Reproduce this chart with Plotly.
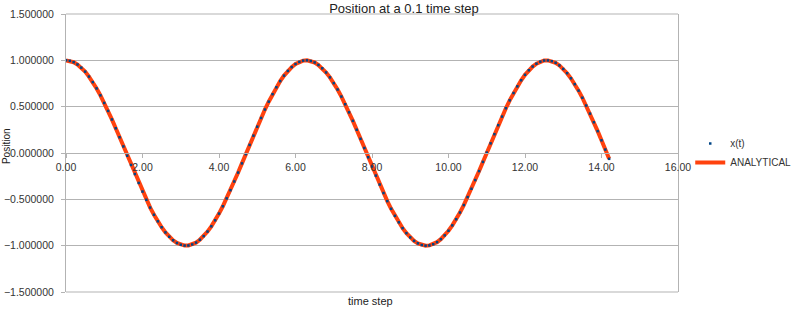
import plotly.graph_objects as go

# time (s) at 0.1 time step
time_values = [
    0.0, 0.1, 0.2, 0.3, 0.4, 0.5, 0.6, 0.7, 0.8, 0.9,
    1.0, 1.1, 1.2, 1.3, 1.4, 1.5, 1.6, 1.7, 1.8, 1.9,
    2.0, 2.1, 2.2, 2.3, 2.4, 2.5, 2.6, 2.7, 2.8, 2.9,
    3.0, 3.1, 3.2, 3.3, 3.4, 3.5, 3.6, 3.7, 3.8, 3.9,
    4.0, 4.1, 4.2, 4.3, 4.4, 4.5, 4.6, 4.7, 4.8, 4.9,
    5.0, 5.1, 5.2, 5.3, 5.4, 5.5, 5.6, 5.7, 5.8, 5.9,
    6.0, 6.1, 6.2, 6.3, 6.4, 6.5, 6.6, 6.7, 6.8, 6.9,
    7.0, 7.1, 7.2, 7.3, 7.4, 7.5, 7.6, 7.7, 7.8, 7.9,
    8.0, 8.1, 8.2, 8.3, 8.4, 8.5, 8.6, 8.7, 8.8, 8.9,
    9.0, 9.1, 9.2, 9.3, 9.4, 9.5, 9.6, 9.7, 9.8, 9.9,
    10.0, 10.1, 10.2, 10.3, 10.4, 10.5, 10.6, 10.7, 10.8, 10.9,
    11.0, 11.1, 11.2, 11.3, 11.4, 11.5, 11.6, 11.7, 11.8, 11.9,
    12.0, 12.1, 12.2, 12.3, 12.4, 12.5, 12.6, 12.7, 12.8, 12.9,
    13.0, 13.1, 13.2, 13.3, 13.4, 13.5, 13.6, 13.7, 13.8, 13.9,
    14.0, 14.1, 14.2,
]

# numerical position x(t)
x_t_values = [
    1.000, 0.995, 0.980, 0.955, 0.921, 0.878, 0.825, 0.765, 0.697, 0.622,
    0.540, 0.454, 0.362, 0.267, 0.170, 0.071, -0.029, -0.129, -0.227, -0.323,
    -0.416, -0.505, -0.589, -0.666, -0.737, -0.801, -0.857, -0.904, -0.942, -0.971,
    -0.990, -0.999, -0.998, -0.987, -0.967, -0.936, -0.897, -0.848, -0.791, -0.726,
    -0.654, -0.575, -0.490, -0.401, -0.307, -0.211, -0.112, -0.012, 0.087, 0.187,
    0.284, 0.378, 0.469, 0.554, 0.635, 0.709, 0.776, 0.835, 0.886, 0.927,
    0.960, 0.983, 0.997, 1.000, 0.993, 0.977, 0.950, 0.914, 0.869, 0.816,
    0.754, 0.685, 0.609, 0.526, 0.439, 0.347, 0.251, 0.153, 0.054, -0.046,
    -0.146, -0.244, -0.340, -0.432, -0.519, -0.602, -0.678, -0.748, -0.811, -0.865,
    -0.911, -0.948, -0.975, -0.993, -1.000, -0.997, -0.985, -0.962, -0.930, -0.889,
    -0.839, -0.781, -0.715, -0.642, -0.562, -0.476, -0.386, -0.292, -0.195, -0.096,
    0.004, 0.104, 0.203, 0.300, 0.393, 0.483, 0.568, 0.647, 0.719, 0.785,
    0.844, 0.893, 0.933, 0.964, 0.986, 0.998, 0.999, 0.991, 0.973, 0.945,
    0.907, 0.861, 0.806, 0.743, 0.673, 0.596, 0.512, 0.425, 0.332, 0.236,
    0.137, 0.037, -0.063,
]

# analytical position
analytical_values = [
    1.000, 0.995, 0.980, 0.955, 0.921, 0.878, 0.825, 0.765, 0.697, 0.622,
    0.540, 0.454, 0.362, 0.267, 0.170, 0.071, -0.029, -0.129, -0.227, -0.323,
    -0.416, -0.505, -0.589, -0.666, -0.737, -0.801, -0.857, -0.904, -0.942, -0.971,
    -0.990, -0.999, -0.998, -0.987, -0.967, -0.936, -0.897, -0.848, -0.791, -0.726,
    -0.654, -0.575, -0.490, -0.401, -0.307, -0.211, -0.112, -0.012, 0.087, 0.187,
    0.284, 0.378, 0.469, 0.554, 0.635, 0.709, 0.776, 0.835, 0.886, 0.927,
    0.960, 0.983, 0.997, 1.000, 0.993, 0.977, 0.950, 0.914, 0.869, 0.816,
    0.754, 0.685, 0.609, 0.526, 0.439, 0.347, 0.251, 0.153, 0.054, -0.046,
    -0.146, -0.244, -0.340, -0.432, -0.519, -0.602, -0.678, -0.748, -0.811, -0.865,
    -0.911, -0.948, -0.975, -0.993, -1.000, -0.997, -0.985, -0.962, -0.930, -0.889,
    -0.839, -0.781, -0.715, -0.642, -0.562, -0.476, -0.386, -0.292, -0.195, -0.096,
    0.004, 0.104, 0.203, 0.300, 0.393, 0.483, 0.568, 0.647, 0.719, 0.785,
    0.844, 0.893, 0.933, 0.964, 0.986, 0.998, 0.999, 0.991, 0.973, 0.945,
    0.907, 0.861, 0.806, 0.743, 0.673, 0.596, 0.512, 0.425, 0.332, 0.236,
    0.137, 0.037, -0.063,
]

series_names = ["x(t)", "ANALYTICAL"]
chart_title = "Position at a 0.1 time step"
x_title = "time step"
y_title = "Position"

FONT = "Liberation Sans, Arial, sans-serif"
GRID = "#b3b3b3"
TEXT = "#333333"

fig = go.Figure()
fig.add_trace(go.Scatter(
    x=time_values, y=analytical_values, mode="lines", name=series_names[1],
    line=dict(color="#ff420e", width=4), legendrank=2,
))
fig.add_trace(go.Scatter(
    x=time_values, y=x_t_values, mode="markers", name=series_names[0],
    marker=dict(color="#004586", size=2.5, symbol="square", line=dict(width=0)),
    legendrank=1,
))

fig.update_layout(
    width=800, height=312,
    margin=dict(l=66, r=122, t=14, b=20, autoexpand=False),
    paper_bgcolor="white", plot_bgcolor="white",
    font=dict(family=FONT, size=10.5, color=TEXT),
    title=dict(text=chart_title, x=0.505, xanchor="center", y=0.974, yanchor="middle",
               font=dict(family=FONT, size=13, color="#222222")),
    showlegend=True,
    legend=dict(x=1.02, xanchor="left", y=0.5, yanchor="middle",
                font=dict(family=FONT, size=10, color=TEXT),
                bgcolor="rgba(0,0,0,0)", itemwidth=30, tracegroupgap=0),
    xaxis=dict(
        range=[0, 16], dtick=2, tick0=0, tickformat=".2f",
        showgrid=False, zeroline=False, automargin=False,
        anchor="free", position=0.5,
        showline=True, linecolor=GRID, linewidth=1,
        ticks="outside", ticklen=4, tickcolor=GRID,
        tickfont=dict(family=FONT, size=10.5, color=TEXT),
    ),
    yaxis=dict(
        range=[-1.5, 1.5], dtick=0.5, tick0=0, tickformat=".6f",
        showgrid=True, gridcolor=GRID, gridwidth=1, zeroline=False, automargin=False,
        showline=True, linecolor=GRID, linewidth=1, mirror=True,
        ticks="outside", ticklen=4, tickcolor=GRID, ticklabelstandoff=5,
        tickfont=dict(family=FONT, size=10.5, color=TEXT),
    ),
    shapes=[
        dict(type="line", xref="paper", yref="paper", x0=0, x1=1, y0=1, y1=1,
             line=dict(color=GRID, width=1), layer="below"),
        dict(type="line", xref="paper", yref="paper", x0=0, x1=1, y0=0, y1=0,
             line=dict(color=GRID, width=1), layer="below"),
    ],
    annotations=[
        dict(text=y_title, xref="paper", yref="paper", x=-0.098, y=0.525,
             xanchor="center", yanchor="middle", textangle=-90, showarrow=False,
             font=dict(family=FONT, size=10, color="#222222")),
        dict(text=x_title, xref="paper", yref="paper", x=0.498, y=-0.032,
             xanchor="center", yanchor="middle", showarrow=False,
             font=dict(family=FONT, size=11, color="#222222")),
    ],
)

fig.write_html("out.html", config={"displayModeBar": False})
